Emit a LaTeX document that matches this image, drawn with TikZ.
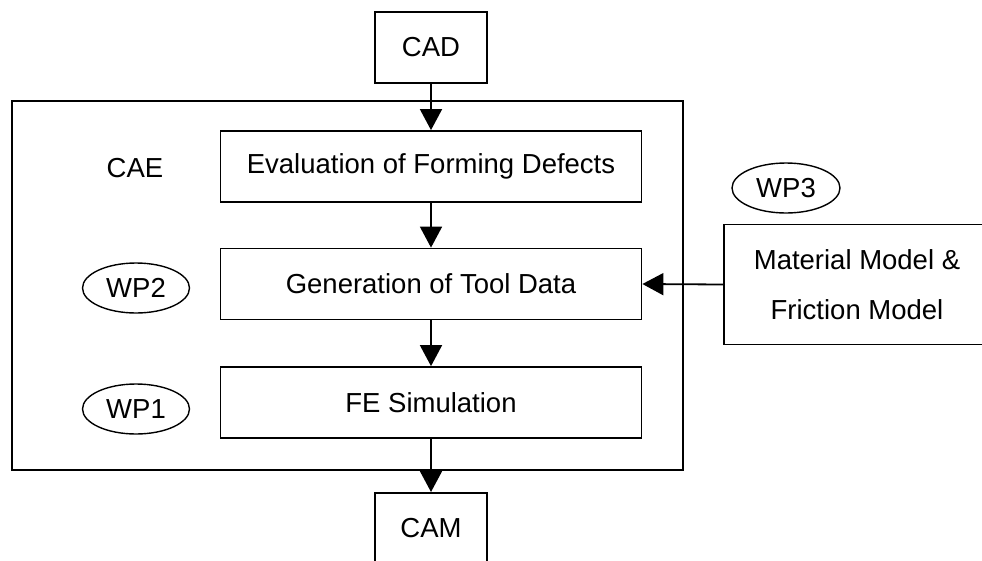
\documentclass[tikz,border=0pt]{standalone}
\usepackage{fontspec}
\setmainfont{Liberation Sans}
\usetikzlibrary{arrows.meta,shapes.geometric}

\tikzset{
  stagebox/.style={draw, line width=1.8pt, rectangle, inner sep=0pt,
    minimum width=421pt, minimum height=71pt},
  smallbox/.style={draw, line width=1.8pt, rectangle, inner sep=0pt,
    minimum width=112pt, minimum height=71pt},
  wp/.style={draw, line width=1.4pt, ellipse, inner sep=0pt,
    minimum width=107pt, minimum height=50pt},
  flow/.style={line width=1.8pt, -{Triangle[length=21pt,width=22pt]}},
}

\begin{document}
\begin{tikzpicture}[x=1pt, y=-1pt, font=\fontsize{27.5}{50}\selectfont]
  \clip (0,0) rectangle (982,560);
  \fill[white] (0,0) rectangle (982,560);

  % CAE frame
  \node[draw, line width=1.8pt, rectangle, inner sep=0pt,
        minimum width=671pt, minimum height=369pt] (frame) at (347.5,285.5) {};
  \node (caelabel) at (135,168) {CAE};

  % process chain
  \node[smallbox] (cad) at (431,47.5) {CAD};
  \node[stagebox] (eval) at (431,166.5) {Evaluation of Forming Defects};
  \node[stagebox] (gen)  at (431,284) {Generation of Tool Data};
  \node[stagebox] (fe)   at (431,402.5) {FE Simulation};
  \node[smallbox, anchor=north] (cam) at (431,492) {CAM};

  % work packages
  \node[wp] (wp2) at (136,288) {WP2};
  \node[wp] (wp1) at (136,409) {WP1};
  \node[wp, minimum width=108pt] (wp3) at (786,188) {WP3};

  % material input, running past the right edge
  \node[draw, line width=1.8pt, rectangle, inner sep=0pt, align=center,
        minimum width=266pt, minimum height=120pt] (mat) at (857,284.5)
        {Material Model \&\\Friction Model};

  % connectors
  \draw[flow] (cad.south) -- (eval.north);
  \draw[flow] (eval.south) -- (gen.north);
  \draw[flow] (gen.south) -- (fe.north);
  \draw[flow] (fe.south) -- (cam.north);
  \draw[flow] (mat.west) -- (gen.east);
\end{tikzpicture}
\end{document}
